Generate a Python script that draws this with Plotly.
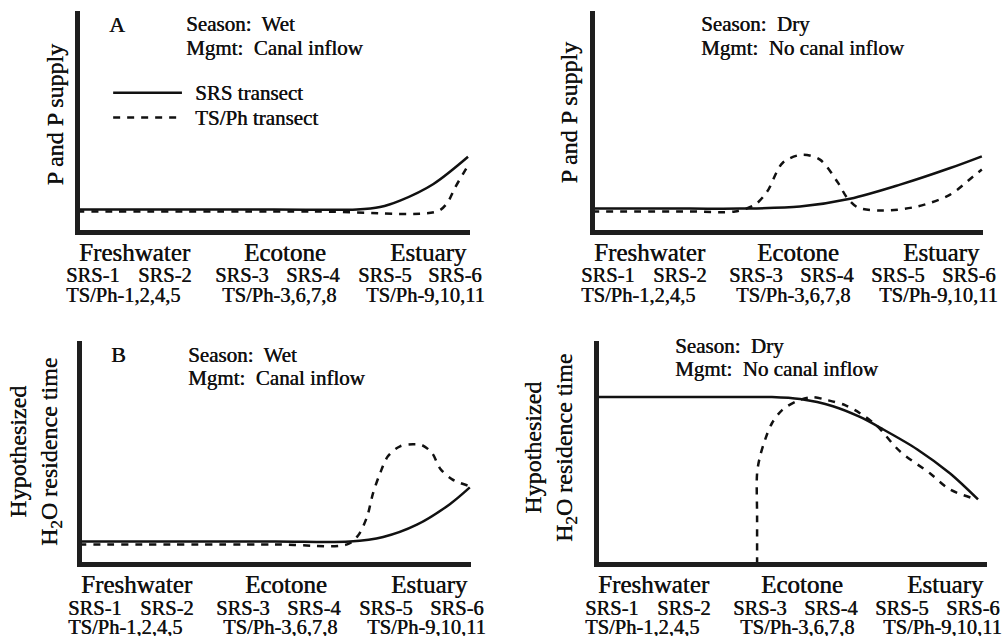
import plotly.graph_objects as go

FIG_W, FIG_H = 1004, 636
SERIF = "Liberation Serif"
INK = "#111111"
TEXT_SHADOW = "0.4px 0 0 #111111"
AXIS_INK = "#1e1e1e"
AXIS_LW = 5
CURVE_LW = 2.5
DASH = "7px,7px"

# ---- labelling shared by every panel (position along the transect, 0-100) ----
zones = ["Freshwater", "Ecotone", "Estuary"]
zone_pos = [14.8, 52.8, 89.4]
srs_sites = ["SRS-1", "SRS-2", "SRS-3", "SRS-4", "SRS-5", "SRS-6"]
srs_pos = [4.1, 22.4, 41.9, 60.0, 78.3, 96.3]
tsph_sites = ["TS/Ph-1,2,4,5", "TS/Ph-3,6,7,8", "TS/Ph-9,10,11"]
tsph_pos = [11.8, 51.4, 88.6]

# ---- A: P and P supply, wet season / canal inflow ----
a_srs_x = [0, 50, 71.2, 77.1, 82.2, 90.6, 99.5]
a_srs_y = [10.4, 10.4, 10.4, 11.5, 14.4, 21.8, 34.2]
a_ts_x = [0, 60, 91.6, 94.1, 96.2, 99.2]
a_ts_y = [9.5, 9.5, 9.5, 13.1, 20.3, 29.3]

# ---- P and P supply, dry season / no canal inflow ----
c_srs_x = [0, 25, 37.9, 53.2, 66.0, 78.8, 91.6, 99.7]
c_srs_y = [10.8, 10.8, 10.8, 11.7, 15.2, 21.6, 29.1, 34.4]
c_ts_x = [0, 25, 36.6, 41.7, 44.8, 48.8, 53.7, 58.3, 62.9, 65.2, 68.0, 74.4,
          83.1, 91.6, 97.4, 99.7]
c_ts_y = [9.5, 9.5, 9.5, 12.6, 18.5, 31.5, 35.1, 32.9, 22.5, 15.8, 11.3, 9.9,
          11.7, 17.1, 25.2, 28.4]

# ---- B: H2O residence time, wet season / canal inflow ----
b_srs_x = [0, 50, 69.1, 77.6, 86.2, 94.6, 99.7]
b_srs_y = [10.3, 10.3, 10.3, 12.3, 17.8, 27.0, 34.5]
b_ts_x = [0, 50, 68.4, 71.2, 73.5, 75.0, 76.8, 78.8, 81.9, 85.2, 87.5, 90.1,
          92.1, 95.2, 99.7]
b_ts_y = [9.0, 9.0, 9.0, 13.0, 21.5, 31.8, 40.8, 48.4, 52.9, 53.8, 53.4, 49.8,
          43.0, 38.1, 35.0]

# ---- H2O residence time, dry season / no canal inflow ----
d_srs_x = [0, 30, 45.0, 52.2, 60.6, 67.5, 73.4, 82.1, 90.5, 97.7]
d_srs_y = [74.9, 74.9, 74.9, 74.0, 70.8, 66.0, 60.5, 51.6, 40.8, 29.1]
d_ts_x = [41.2, 41.2, 41.2, 41.9, 43.2, 45.0, 47.6, 51.4, 55.2, 59.3, 63.7,
          67.5, 71.9, 77.7, 85.4, 90.5, 97.4]
d_ts_y = [0, 21.5, 40.8, 48.0, 55.6, 63.2, 69.1, 73.1, 74.9, 73.5, 71.3,
          67.7, 61.9, 50.7, 40.8, 33.6, 29.1]

P_TITLE = "P and P supply"
H_TITLE = "Hypothesized<br>H<sub>2</sub>O residence time"

# panel frames in pixels (axis-line centres) and their text placement
panels = [
    dict(left=77, right=470, top=11, bottom=232.5,
         srs=(a_srs_x, a_srs_y), ts=(a_ts_x, a_ts_y),
         letter="A", season="Wet", mgmt="Canal inflow",
         note_x=27.2, note_dy=13.5,
         ytitle=P_TITLE, ytitle_xy=(54, 114.5), legend=True),
    dict(left=592, right=983, top=11, bottom=232.5,
         srs=(c_srs_x, c_srs_y), ts=(c_ts_x, c_ts_y),
         letter=None, season="Dry", mgmt="No canal inflow",
         note_x=27.4, note_dy=13.5,
         ytitle=P_TITLE, ytitle_xy=(569, 112.5), legend=False),
    dict(left=79, right=471, top=341, bottom=564.5,
         srs=(b_srs_x, b_srs_y), ts=(b_ts_x, b_ts_y),
         letter="B", season="Wet", mgmt="Canal inflow",
         note_x=27.2, note_dy=13.5,
         ytitle=H_TITLE, ytitle_xy=(36, 452), legend=False),
    dict(left=596, right=987, top=341, bottom=564.5,
         srs=(d_srs_x, d_srs_y), ts=(d_ts_x, d_ts_y),
         letter=None, season="Dry", mgmt="No canal inflow",
         note_x=19.8, note_dy=5,
         ytitle=H_TITLE, ytitle_xy=(551, 448), legend=False),
]


def px_x(px):
    return px / FIG_W


def px_y(py):
    return 1 - py / FIG_H


def serif(size):
    return dict(family=SERIF, size=size, color=INK, shadow=TEXT_SHADOW)


fig = go.Figure()
annotations = []
shapes = []
layout_axes = {}

for i, p in enumerate(panels, start=1):
    sx = "" if i == 1 else str(i)
    xname, yname = "x" + sx, "y" + sx
    W = p["right"] - p["left"]
    H = p["bottom"] - p["top"]
    half = AXIS_LW / 2

    layout_axes["xaxis" + sx] = dict(
        domain=[px_x(p["left"] + half), px_x(p["right"])],
        range=[half / W * 100, 100], anchor=yname,
        showline=True, linewidth=AXIS_LW, linecolor=AXIS_INK,
        showgrid=False, zeroline=False, showticklabels=False, ticks="",
        fixedrange=True)
    layout_axes["yaxis" + sx] = dict(
        domain=[px_y(p["bottom"] - half), px_y(p["top"])],
        range=[half / H * 100, 100], anchor=xname,
        showline=True, linewidth=AXIS_LW, linecolor=AXIS_INK,
        showgrid=False, zeroline=False, showticklabels=False, ticks="",
        fixedrange=True)

    fig.add_trace(go.Scatter(
        x=p["srs"][0], y=p["srs"][1], mode="lines", xaxis=xname, yaxis=yname,
        line=dict(color=INK, width=CURVE_LW, shape="spline", smoothing=0.9),
        showlegend=False, hoverinfo="skip"))
    fig.add_trace(go.Scatter(
        x=p["ts"][0], y=p["ts"][1], mode="lines", xaxis=xname, yaxis=yname,
        line=dict(color=INK, width=CURVE_LW, dash=DASH, shape="spline",
                  smoothing=0.9),
        showlegend=False, hoverinfo="skip"))

    def txt(x, y, text, size, xanchor="center", xref=xname):
        annotations.append(dict(
            x=x, y=y, xref=xref, yref="paper", text=text, showarrow=False,
            xanchor=xanchor, yanchor="middle", font=serif(size)))

    # transect labelling under the x axis
    base = p["bottom"]
    for name, pos in zip(zones, zone_pos):
        txt(pos, px_y(base + 20), name, 25)
    for name, pos in zip(srs_sites, srs_pos):
        txt(pos, px_y(base + 43), name, 20.5)
    for name, pos in zip(tsph_sites, tsph_pos):
        txt(pos, px_y(base + 62.5), name, 20.5)

    # season / management note and panel letter
    top = p["top"]
    txt(p["note_x"], px_y(top + p["note_dy"]),
        "Season:\u00a0 " + p["season"], 21, xanchor="left")
    txt(p["note_x"], px_y(top + p["note_dy"] + 23),
        "Mgmt:\u00a0 " + p["mgmt"], 21, xanchor="left")
    if p["letter"]:
        txt(10.2, px_y(top + 13.5), p["letter"], 22)

    # rotated y-axis title
    annotations.append(dict(
        x=px_x(p["ytitle_xy"][0]), y=px_y(p["ytitle_xy"][1]),
        xref="paper", yref="paper", text=p["ytitle"], showarrow=False,
        textangle=-90, xanchor="center", yanchor="middle", align="center",
        font=serif(24)))

    # line-style key
    if p["legend"]:
        key_x0, key_x1, key_text_x = 9.2, 26.7, 29.5
        for label, ky, dash in [("SRS transect", 63.1, "solid"),
                                ("TS/Ph transect", 51.9, DASH)]:
            shapes.append(dict(type="line", xref=xname, yref=yname,
                               x0=key_x0, x1=key_x1, y0=ky, y1=ky,
                               line=dict(color=INK, width=CURVE_LW, dash=dash)))
            annotations.append(dict(
                x=key_text_x, y=ky, xref=xname, yref=yname, text=label,
                showarrow=False, xanchor="left", yanchor="middle",
                font=serif(21)))

fig.update_layout(
    width=FIG_W, height=FIG_H,
    margin=dict(l=0, r=0, t=0, b=0),
    paper_bgcolor="white", plot_bgcolor="white",
    font=dict(family=SERIF),
    showlegend=False,
    annotations=annotations, shapes=shapes,
    **layout_axes)

fig.write_html("out.html", config={"displayModeBar": False})
